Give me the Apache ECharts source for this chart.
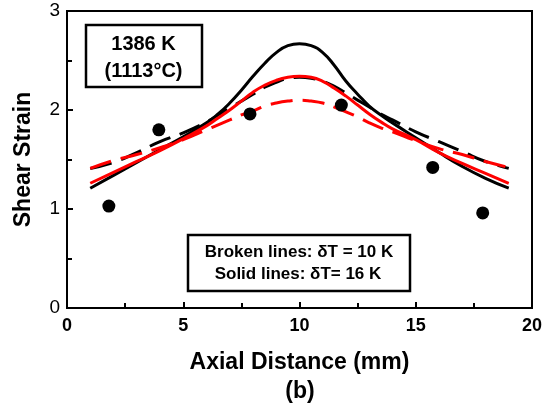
<!DOCTYPE html>
<html>
<head>
<meta charset="utf-8">
<script src="https://cdn.jsdelivr.net/npm/echarts@6/dist/echarts.min.js"></script>
<style>html,body{margin:0;padding:0;background:#fff;}#c{width:546px;height:410px;}</style>
</head>
<body>
<div id="c"></div>
<script>
const xs = [1,2,3,4,5,6,6.5,7,7.5,8,8.5,9,9.5,10,10.5,11,11.5,12,12.5,13,13.5,14,15,16,17,18,19];
const blackSolid  = [1.21,1.34,1.47,1.60,1.73,1.87,1.96,2.07,2.20,2.34,2.47,2.58,2.65,2.67,2.65,2.58,2.45,2.29,2.16,2.04,1.95,1.87,1.72,1.57,1.43,1.31,1.21];
const redSolid    = [1.26,1.37,1.48,1.59,1.71,1.84,1.92,2.00,2.09,2.18,2.25,2.30,2.33,2.34,2.33,2.29,2.22,2.14,2.05,1.96,1.88,1.81,1.70,1.57,1.46,1.36,1.26];
const blackDashed = [1.41,1.47,1.57,1.68,1.77,1.88,1.95,2.02,2.09,2.16,2.23,2.28,2.32,2.33,2.32,2.29,2.24,2.17,2.10,2.03,1.96,1.90,1.78,1.68,1.58,1.48,1.41];
const redDashed   = [1.41,1.49,1.55,1.62,1.70,1.80,1.85,1.90,1.95,1.99,2.04,2.07,2.09,2.10,2.09,2.07,2.03,1.98,1.93,1.87,1.82,1.78,1.69,1.61,1.55,1.48,1.42];
const expX = [1.8,3.95,7.87,11.8,15.73,17.88];
const expY = [1.03,1.80,1.96,2.05,1.42,0.96];
const xTicks = [0,5,10,15,20];
const yTicks = [0,1,2,3];
const boxText1 = ['1386 K','(1113°C)'];
const boxText2 = ['Broken lines: δT = 10 K','Solid lines: δT= 16 K'];

const pair = (ys) => xs.map((x,i)=>[x,ys[i]]);
const F = '"Liberation Sans", Arial, sans-serif';
const chart = echarts.init(document.getElementById('c'), null, {renderer:'canvas'});
const lineSeries = (name, ys, color, dashed) => ({
  name, type:'line', data: pair(ys), smooth: true, symbol:'none',
  lineStyle:{color, width:3, type: dashed ? [22,10] : 'solid'}, z: 2, animation:false
});
chart.setOption({
  animation:false,
  grid:{left:67,right:14,top:11,bottom:102,show:true,borderColor:'#000',borderWidth:2,backgroundColor:'transparent'},
  xAxis:{type:'value',min:0,max:20,interval:5,
    name:'Axial Distance (mm)',nameLocation:'middle',nameGap:43,
    nameTextStyle:{fontFamily:F,fontWeight:'bold',fontSize:23,color:'#000'},
    axisLine:{show:true,lineStyle:{color:'#000',width:2}},
    axisTick:{show:true,inside:true,length:6,lineStyle:{color:'#000',width:2}},
    minorTick:{show:true,splitNumber:2,length:5,lineStyle:{color:'#000',width:2}},
    splitLine:{show:false},
    axisLabel:{fontFamily:F,fontSize:18,fontWeight:'bold',color:'#000',margin:9,
      formatter:(v)=> xTicks.includes(v) ? String(v) : ''}
  },
  yAxis:{type:'value',min:0,max:3,interval:1,
    name:'Shear Strain',nameLocation:'middle',nameGap:32,
    nameTextStyle:{fontFamily:F,fontWeight:'bold',fontSize:23,color:'#000'},
    axisLine:{show:true,lineStyle:{color:'#000',width:2}},
    axisTick:{show:true,inside:true,length:6,lineStyle:{color:'#000',width:2}},
    minorTick:{show:true,splitNumber:2,length:5,lineStyle:{color:'#000',width:2}},
    splitLine:{show:false},
    axisLabel:{fontFamily:F,fontSize:19,color:'#000',margin:7,
      formatter:(v)=> yTicks.includes(v) ? String(v) : ''}
  },
  series:[
    lineSeries('Black broken', blackDashed, '#000', true),
    lineSeries('Black solid', blackSolid, '#000', false),
    lineSeries('Red broken', redDashed, '#ff0000', true),
    lineSeries('Red solid', redSolid, '#ff0000', false),
    {name:'Experiment',type:'scatter',data:expX.map((x,i)=>[x,expY[i]]),symbol:'circle',symbolSize:13,
     itemStyle:{color:'#000',opacity:1},z:5}
  ],
  graphic:[
    {type:'rect',shape:{x:86,y:25,width:116,height:62},style:{fill:'#fff',stroke:'#000',lineWidth:2.5},z:10},
    {type:'text',x:143.5,y:44,style:{text:boxText1[0],font:'bold 20px '+F,fill:'#000',align:'center',verticalAlign:'middle'},z:11},
    {type:'text',x:143.5,y:71,style:{text:boxText1[1],font:'bold 20px '+F,fill:'#000',align:'center',verticalAlign:'middle'},z:11},
    {type:'rect',shape:{x:188,y:235,width:222,height:56},style:{fill:'#fff',stroke:'#000',lineWidth:2.5},z:10},
    {type:'text',x:299,y:252,style:{text:boxText2[0],font:'bold 17px '+F,fill:'#000',align:'center',verticalAlign:'middle'},z:11},
    {type:'text',x:298,y:274,style:{text:boxText2[1],font:'bold 17px '+F,fill:'#000',align:'center',verticalAlign:'middle'},z:11},
    {type:'text',x:300,y:392,style:{text:'(b)',font:'bold 23px '+F,fill:'#000',align:'center',verticalAlign:'middle'},z:11}
  ]
});
</script>
</body>
</html>
